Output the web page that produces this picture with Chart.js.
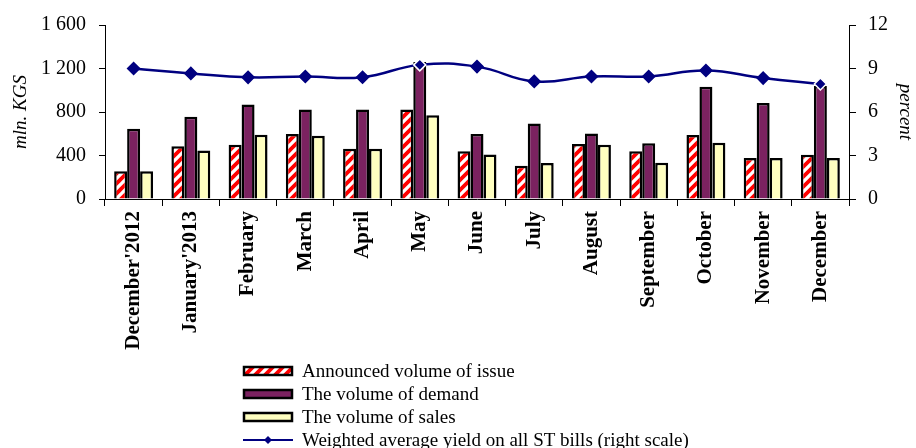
<!DOCTYPE html>
<html>
<head>
<meta charset="utf-8">
<script src="https://cdn.jsdelivr.net/npm/chart.js@4/dist/chart.umd.min.js"></script>
<style>
  html, body { margin: 0; padding: 0; background: #fff; }
  #wrap { width: 916px; height: 448px; }
</style>
</head>
<body>
<div id="wrap"><canvas id="chart" width="916" height="448"></canvas></div>
<script>
// data
var months = ["December'2012", "January'2013", "February", "March", "April", "May",
  "June", "July", "August", "September", "October", "November", "December"];
var announced = [255, 485, 500, 597, 461, 824, 439, 306, 506, 439, 588, 376, 406];
var demand = [645, 757, 870, 824, 824, 1260, 597, 694, 603, 512, 1033, 882, 1040];
var sales = [255, 445, 591, 582, 461, 770, 409, 330, 500, 333, 518, 376, 376];
var yieldPct = [9.0, 8.66, 8.39, 8.45, 8.4, 9.25, 9.13, 8.11, 8.45, 8.45, 8.86, 8.34, 7.93];

var leftTicks = [0, 400, 800, 1200, 1600];
var rightTicks = [0, 3, 6, 9, 12];

var FONT = "'Liberation Serif', 'Times New Roman', serif";

// red diagonal stripes on white
function stripePattern() {
  var c = document.createElement('canvas');
  c.width = 10; c.height = 10;
  var g = c.getContext('2d');
  g.fillStyle = '#fff';
  g.fillRect(0, 0, 10, 10);
  g.strokeStyle = '#ff0000';
  g.lineWidth = 3.8;
  g.beginPath();
  g.moveTo(-5, 5); g.lineTo(5, -5);
  g.moveTo(-5, 15); g.lineTo(15, -5);
  g.moveTo(5, 15); g.lineTo(15, 5);
  g.stroke();
  return document.getElementById('chart').getContext('2d').createPattern(c, 'repeat');
}
var stripes = stripePattern();

function fmt(v) {
  return v >= 1000 ? Math.floor(v / 1000) + ' ' + String(v % 1000).padStart(3, '0') : String(v);
}

// legend drawn as a vertical list below the chart
var listLegend = {
  id: 'listLegend',
  afterDraw: function (chart) {
    var ctx = chart.ctx;
    var items = [1, 2, 3, 0];
    ctx.save();
    ctx.font = '19px ' + FONT;
    ctx.textBaseline = 'middle';
    items.forEach(function (di, i) {
      var ds = chart.data.datasets[di];
      var y = 371 + i * 23;
      if (ds.type === 'line') {
        ctx.strokeStyle = ds.borderColor;
        ctx.lineWidth = 2;
        ctx.beginPath();
        ctx.moveTo(243, y); ctx.lineTo(293, y);
        ctx.stroke();
        ctx.fillStyle = ds.borderColor;
        ctx.beginPath();
        ctx.moveTo(268, y - 4); ctx.lineTo(272, y); ctx.lineTo(268, y + 4); ctx.lineTo(264, y);
        ctx.closePath();
        ctx.fill();
      } else {
        ctx.fillStyle = ds.backgroundColor;
        ctx.fillRect(244, y - 4, 48, 8);
        ctx.strokeStyle = '#000';
        ctx.lineWidth = 2.5;
        ctx.strokeRect(244, y - 4, 48, 8);
      }
      ctx.fillStyle = '#000';
      ctx.fillText(ds.label, 302, y + 1);
    });
    ctx.restore();
  }
};

var ctx = document.getElementById('chart').getContext('2d');
new Chart(ctx, {
  type: 'bar',
  data: {
    labels: months,
    datasets: [{
      type: 'line',
      label: 'Weighted average yield on all ST bills (right scale)',
      data: yieldPct,
      yAxisID: 'y1',
      borderColor: '#000080',
      backgroundColor: '#000080',
      borderWidth: 2.5,
      tension: 0.45,
      pointStyle: 'rectRot',
      pointRadius: 6,
      pointBackgroundColor: '#000080',
      pointBorderColor: yieldPct.map(function (v, i) { return (i === 5 || i === 12) ? '#fff' : '#000080'; }),
      pointBorderWidth: 1.5,
      order: 0
    }, {
      label: 'Announced volume of issue',
      data: announced,
      backgroundColor: stripes,
      borderColor: '#000',
      borderWidth: 2.5,
      order: 1
    }, {
      label: 'The volume of demand',
      data: demand,
      backgroundColor: '#7b2260',
      borderColor: '#000',
      borderWidth: 2.5,
      order: 1
    }, {
      label: 'The volume of sales',
      data: sales,
      backgroundColor: '#ffffc0',
      borderColor: '#000',
      borderWidth: 2.5,
      order: 1
    }]
  },
  options: {
    responsive: false,
    animation: false,
    categoryPercentage: 0.68,
    barPercentage: 1.0,
    layout: { padding: { top: 23, bottom: 89, left: 0, right: 0 } },
    plugins: {
      legend: { display: false },
      tooltip: { enabled: false }
    },
    scales: {
      x: {
        grid: { display: true, drawOnChartArea: false, offset: true, tickLength: 7, color: '#000' },
        border: { color: '#000', width: 1 },
        ticks: {
          color: '#000', font: { family: FONT, size: 21, weight: 'bold' },
          minRotation: 90, maxRotation: 90, autoSkip: false, padding: 5
        },
        afterFit: function (s) { s.height = 160; }
      },
      y: {
        position: 'left',
        min: 0, max: 1600,
        afterBuildTicks: function (s) { s.ticks = leftTicks.map(function (v) { return { value: v }; }); },
        grid: { display: true, drawOnChartArea: false, tickLength: 6, color: '#000' },
        border: { color: '#000', width: 1 },
        ticks: {
          color: '#000', font: { family: FONT, size: 20 }, padding: 13,
          callback: function (v) { return fmt(v); }
        },
        title: { display: true, text: 'mln. KGS', color: '#000', font: { family: FONT, size: 19, style: 'italic' }, padding: { top: 10, bottom: 0 } },
        afterFit: function (s) { s.width = 105; }
      },
      y1: {
        position: 'right',
        min: 0, max: 12,
        afterBuildTicks: function (s) { s.ticks = rightTicks.map(function (v) { return { value: v }; }); },
        grid: { display: true, drawOnChartArea: false, tickLength: 7, color: '#000' },
        border: { color: '#000', width: 1 },
        ticks: { color: '#000', font: { family: FONT, size: 20 }, padding: 12 },
        title: { display: true, text: 'percent', color: '#000', font: { family: FONT, size: 19, style: 'italic' }, padding: { top: 0, bottom: -4 } },
        afterFit: function (s) { s.width = 67; }
      }
    }
  },
  plugins: [listLegend]
});
</script>
</body>
</html>
